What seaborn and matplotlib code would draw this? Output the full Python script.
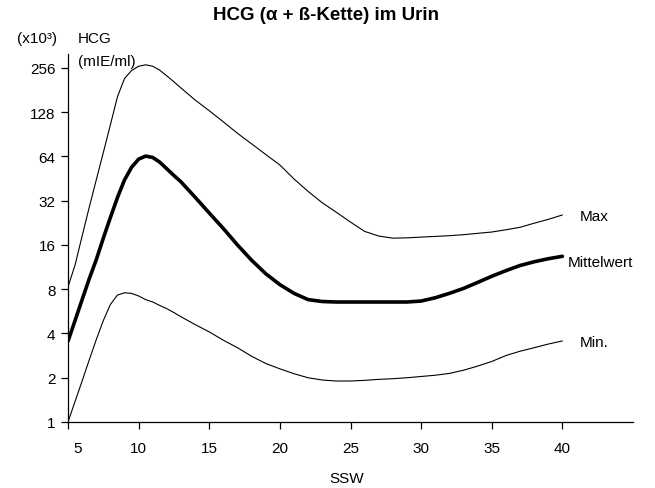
import matplotlib
matplotlib.use("Agg")
import matplotlib.pyplot as plt
import matplotlib.transforms as mtransforms
import seaborn as sns
import pandas as pd

# Schwangerschaftswoche
ssw = [5, 5.5, 6, 6.5, 7, 7.5, 8, 8.5, 9, 9.5, 10, 10.5, 11, 11.5, 12, 12.5, 13,
       14, 15, 16, 17, 18, 19, 20, 21, 22, 23, 24, 25, 26, 27, 28, 29, 30,
       31, 32, 33, 34, 35, 36, 37, 38, 39, 40]

hcg_max = [8.3, 11.7, 18.4, 28.8, 44.3, 68, 105, 163, 217, 246, 263, 269, 263, 247,
           226, 206, 187, 155, 131, 110, 92, 78, 66, 56, 45, 37, 31, 26.7, 22.9,
           19.8, 18.4, 17.8, 17.9, 18.1, 18.3, 18.5, 18.8, 19.2, 19.6, 20.3, 21.1,
           22.5, 23.9, 25.6]
hcg_mittel = [3.55, 4.9, 6.8, 9.4, 12.7, 17.8, 24.6, 33.6, 44.3, 54, 61.4, 64.4, 63,
              58.5, 52.7, 47.5, 43, 33.8, 26.4, 20.7, 16.0, 12.6, 10.2, 8.6, 7.5, 6.8,
              6.6, 6.55, 6.55, 6.55, 6.55, 6.55, 6.55, 6.65, 7.0, 7.5, 8.1, 8.9, 9.8,
              10.7, 11.6, 12.3, 12.9, 13.4]
hcg_min = [1.0, 1.38, 1.9, 2.64, 3.63, 4.9, 6.3, 7.3, 7.57, 7.5, 7.2, 6.8, 6.55, 6.2,
           5.9, 5.55, 5.2, 4.6, 4.1, 3.6, 3.2, 2.8, 2.5, 2.3, 2.13, 2.0, 1.93, 1.9,
           1.9, 1.92, 1.95, 1.97, 2.0, 2.04, 2.08, 2.14, 2.25, 2.4, 2.58, 2.83, 3.03,
           3.2, 3.39, 3.56]

y_ticks = [1, 2, 4, 8, 16, 32, 64, 128, 256]
x_ticks = [5, 10, 15, 20, 25, 30, 35, 40]

sns.set_style("ticks")
plt.rcParams["font.family"] = ["Liberation Sans", "DejaVu Sans"]
plt.rcParams["text.color"] = "black"
plt.rcParams["axes.labelcolor"] = "black"
plt.rcParams["xtick.color"] = "black"
plt.rcParams["ytick.color"] = "black"

W, H = 655, 489
fig = plt.figure(figsize=(W / 100, H / 100), dpi=100)
ax = fig.add_axes([68 / W, (H - 423) / H, (633 - 68) / W, (423 - 55) / H])

df = pd.DataFrame({"SSW": ssw, "Max": hcg_max, "Mittelwert": hcg_mittel, "Min": hcg_min})
sns.lineplot(data=df, x="SSW", y="Max", ax=ax, color="black", linewidth=0.8)
sns.lineplot(data=df, x="SSW", y="Mittelwert", ax=ax, color="black", linewidth=2.6)
sns.lineplot(data=df, x="SSW", y="Min", ax=ax, color="black", linewidth=0.8)

ax.set_yscale("log", base=2)
ax.set_ylim(1, 318.6)
ax.set_xlim(5, 45)
ax.set_yticks(y_ticks)
ax.set_yticklabels([str(v) for v in y_ticks])
ax.minorticks_off()
ax.set_xticks(x_ticks)
ax.set_xticklabels([str(v) for v in x_ticks])
ax.set_xlabel("")
ax.set_ylabel("")
ax.tick_params(axis="both", direction="out", length=5, width=0.9, color="black",
               labelsize=11, labelcolor="black", pad=4)
ax.tick_params(axis="x", pad=9)
for s in ["top", "right"]:
    ax.spines[s].set_visible(False)
for s in ["left", "bottom"]:
    ax.spines[s].set_color("black")
    ax.spines[s].set_linewidth(0.9)

lab = ax.get_xticklabels()[0]
lab.set_transform(lab.get_transform() + mtransforms.ScaledTranslation(0.10, 0, fig.dpi_scale_trans))

def ftxt(x, y, s, **kw):
    fig.text(x / W, 1 - y / H, s, va="center", color="black", **kw)

ftxt(326, 16, "HCG (α + ß-Kette) im Urin", ha="center", fontsize=13.5, fontweight="bold")
ftxt(37, 39, "(x10³)", ha="center", fontsize=11)
ftxt(78, 39, "HCG", ha="left", fontsize=11)
ftxt(78, 62, "(mIE/ml)", ha="left", fontsize=11)
ftxt(580, 217, "Max", ha="left", fontsize=11)
ftxt(568, 263, "Mittelwert", ha="left", fontsize=11)
ftxt(580, 343, "Min.", ha="left", fontsize=11)
ftxt(347, 479, "SSW", ha="center", fontsize=11)

fig.savefig("out.png", dpi=100, facecolor="white")
